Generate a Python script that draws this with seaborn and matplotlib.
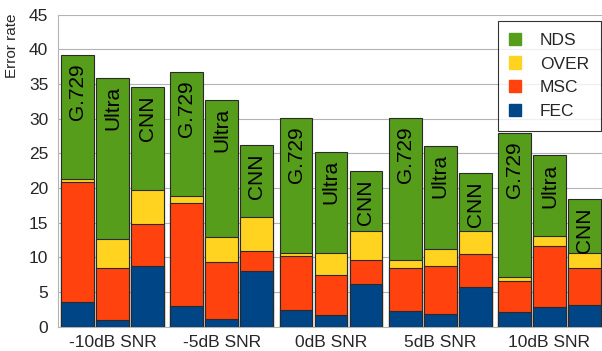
import numpy as np
import pandas as pd
import matplotlib
matplotlib.use("Agg")
import matplotlib.pyplot as plt
from matplotlib.patches import Patch
from matplotlib.ticker import FixedLocator
import seaborn as sns

# values (segment heights)
snr_levels = ["-10dB SNR", "-5dB SNR", "0dB SNR", "5dB SNR", "10dB SNR"]
codecs = ["G.729", "Ultra", "CNN"]

# per SNR level: [G.729, Ultra, CNN]
fec = [[3.5, 0.9, 8.7], [3.0, 1.1, 8.0], [2.4, 1.7, 6.1], [2.2, 1.8, 5.7], [2.1, 2.8, 3.1]]
msc = [[17.3, 7.5, 6.1], [14.9, 8.3, 2.9], [7.8, 5.7, 3.5], [6.3, 6.9, 4.8], [4.5, 8.9, 5.3]]
over = [[0.5, 4.2, 4.9], [0.9, 3.5, 4.9], [0.5, 3.2, 4.2], [1.1, 2.5, 3.3], [0.6, 1.4, 2.2]]
nds = [[17.9, 23.3, 14.8], [17.9, 19.8, 10.4], [19.4, 14.6, 8.6], [20.5, 14.9, 8.3], [20.8, 11.6, 7.8]]

series = ["FEC", "MSC", "OVER", "NDS"]
colors = {"FEC": "#004586", "MSC": "#ff420e", "OVER": "#ffd320", "NDS": "#579d1c"}

rows = []
for i, snr in enumerate(snr_levels):
    for j, c in enumerate(codecs):
        rows.append({"snr": snr, "codec": c, "FEC": fec[i][j], "MSC": msc[i][j],
                     "OVER": over[i][j], "NDS": nds[i][j]})
df = pd.DataFrame(rows)
cum = df[series].cumsum(axis=1)
for s in series:
    df[s + "_top"] = cum[s]

sns.set_style("white")
plt.rcParams["font.family"] = ["Liberation Sans", "DejaVu Sans"]

fig = plt.figure(figsize=(6.02, 3.51), dpi=100)
ax = fig.add_axes([58 / 602, 1 - 326.7 / 351, 546 / 602, 312 / 351])

# draw stacked bars top-down so lower segments overlay
for s in reversed(series):
    sns.barplot(data=df, x="snr", y=s + "_top", hue="codec", order=snr_levels,
                hue_order=codecs, palette=[colors[s]] * 3, saturation=1,
                width=0.96, gap=0.06, edgecolor="#2a2a2a", linewidth=0.8,
                legend=False, ax=ax, zorder=3)

# codec labels at top of each bar
for i, snr in enumerate(snr_levels):
    for j, c in enumerate(codecs):
        xpos = i + (j - 1) * 0.32
        top = df.loc[(df.snr == snr) & (df.codec == c), "NDS_top"].iloc[0]
        ax.annotate(c, (xpos, top), xytext=(0, -6), textcoords="offset points",
                    rotation=90, ha="center", va="top", fontsize=15, color="black",
                    zorder=5)

ax.set_ylim(0, 45)
ax.set_xlim(-0.5, 4.5)
ax.set_yticks(np.arange(0, 46, 5))
ax.yaxis.grid(True, color="#b3b3b3", linewidth=0.8, zorder=0)
ax.set_axisbelow(True)
ax.set_xlabel("")
ax.set_ylabel("Error rate", fontsize=11)
ax.yaxis.set_label_coords(-0.072, 0.9)

for side in ["top", "right"]:
    ax.spines[side].set_visible(False)
for side in ["left", "bottom"]:
    ax.spines[side].set_color("#b3b3b3")
    ax.spines[side].set_linewidth(0.8)

ax.tick_params(axis="y", length=5, color="#b3b3b3", labelsize=12.5, pad=2)
ax.tick_params(axis="x", which="major", length=0, labelsize=12.5, pad=6)
ax.xaxis.set_minor_locator(FixedLocator(np.arange(-0.5, 4.6, 1)))
ax.tick_params(axis="x", which="minor", length=6, color="#b3b3b3", width=0.8)

handles = [Patch(facecolor=colors[s], edgecolor=colors[s], label=s) for s in reversed(series)]
leg = ax.legend(handles=handles, loc="upper right", bbox_to_anchor=(1.0, 0.99),
                fontsize=12.5, frameon=True, fancybox=False, handlelength=0.7,
                handleheight=0.7, handletextpad=1.1, borderpad=0.65, labelspacing=0.5,
                borderaxespad=0.2)
leg.get_frame().set_edgecolor("black")
leg.get_frame().set_linewidth(0.8)
leg.set_zorder(10)

fig.savefig("out.png", dpi=100)
